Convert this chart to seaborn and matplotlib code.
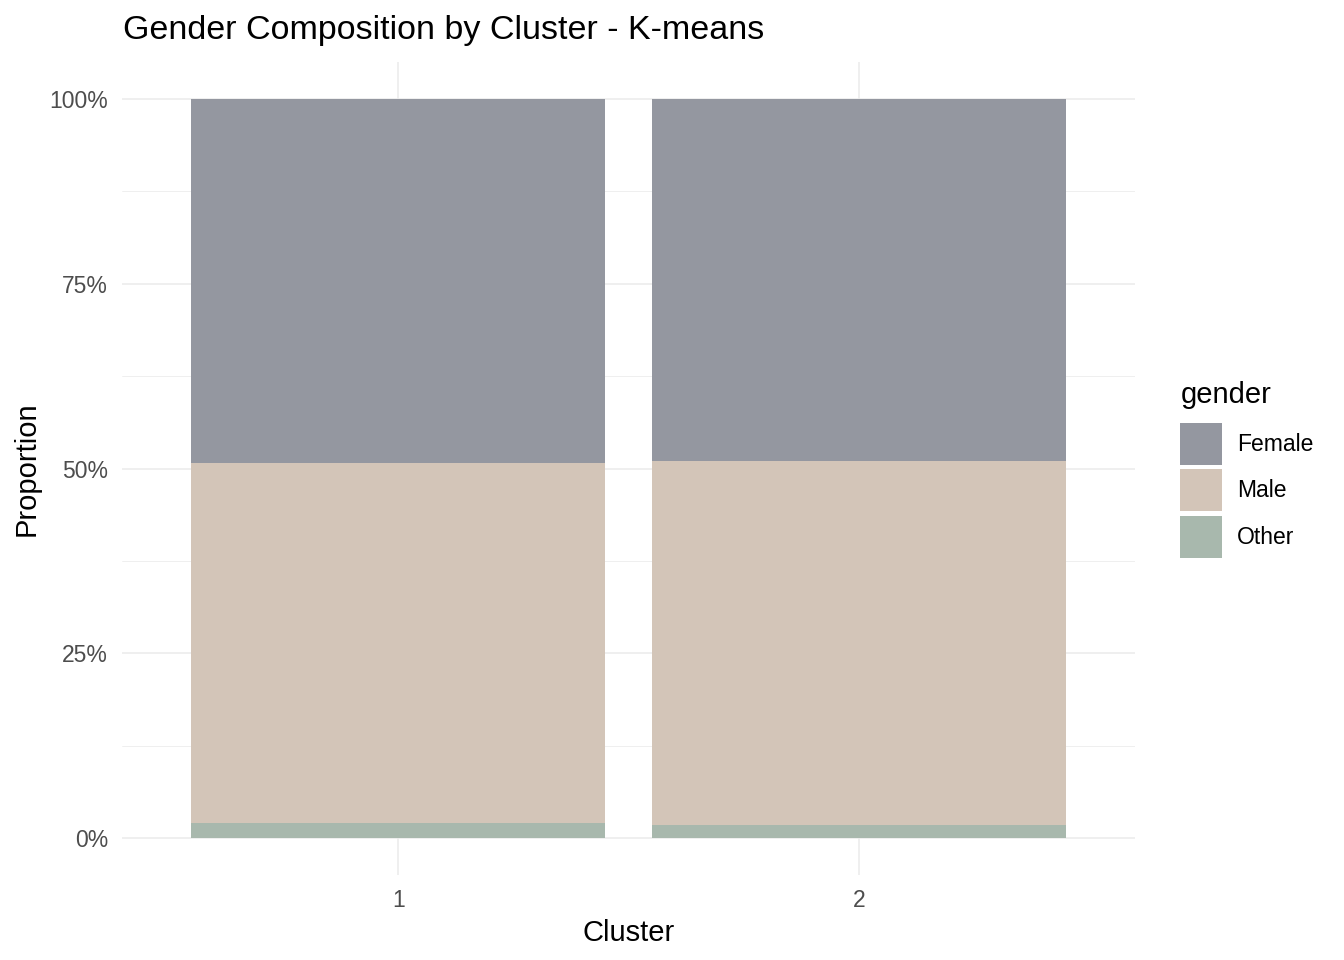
import numpy as np
import pandas as pd
import matplotlib
matplotlib.use("Agg")
import matplotlib.pyplot as plt
import seaborn as sns
from matplotlib.patches import Patch
from matplotlib.ticker import FixedLocator

# data
clusters = ["1", "2"]
female = [0.493, 0.490]
male = [0.487, 0.492]
other = [0.020, 0.018]
genders = ["Female", "Male", "Other"]
colors = ["#9497a0", "#d3c5b8", "#a8b8ad"]

df = pd.DataFrame({"cluster": clusters, "Female": female, "Male": male, "Other": other})
# cumulative tops for stacking (Other at bottom, Female on top)
df["top_Other"] = df["Other"]
df["top_Male"] = df["Other"] + df["Male"]
df["top_Female"] = df["Other"] + df["Male"] + df["Female"]

sns.set_style("white")
plt.rcParams["font.family"] = ["Liberation Sans", "DejaVu Sans"]
plt.rcParams["text.color"] = "black"
plt.rcParams["axes.labelcolor"] = "black"

fig = plt.figure(figsize=(13.44, 9.6), dpi=100)
ax = fig.add_axes([122 / 1344, 1 - 875 / 960, (1135 - 122) / 1344, (875 - 62) / 960])

for g, c in zip(genders, colors):
    sns.barplot(data=df, x="cluster", y="top_" + g, color=c, width=0.9,
                saturation=1, ax=ax, zorder=3, edgecolor="none", linewidth=0)

ax.set_xlim(-0.6, 1.6)
ax.set_ylim(-0.05, 1.05)
ax.yaxis.set_major_locator(FixedLocator([0, 0.25, 0.5, 0.75, 1.0]))
ax.yaxis.set_minor_locator(FixedLocator([0.125, 0.375, 0.625, 0.875]))
ax.set_yticklabels(["0%", "25%", "50%", "75%", "100%"])
ax.grid(True, which="major", color="#ebebeb", linewidth=1.1, zorder=0)
ax.grid(True, which="minor", axis="y", color="#ebebeb", linewidth=0.55, zorder=0)
ax.set_axisbelow(True)
for s in ax.spines.values():
    s.set_visible(False)
ax.tick_params(axis="both", which="both", length=0, labelsize=16.5, labelcolor="#4d4d4d")
ax.tick_params(axis="y", pad=10)
ax.tick_params(axis="x", pad=10)

ax.set_xlabel("Cluster", fontsize=21, labelpad=5)
ax.set_ylabel("Proportion", fontsize=21, labelpad=6)
fig.text(123 / 1344, 1 - 31 / 960, "Gender Composition by Cluster - K-means",
         fontsize=24.5, va="center", ha="left")

handles = [Patch(facecolor=c, edgecolor="none", label=g) for g, c in zip(genders, colors)]
leg = fig.legend(handles=handles, title="gender", loc="upper left",
                 bbox_to_anchor=(1162 / 1344, 1 - 363 / 960), frameon=False,
                 fontsize=16.5, title_fontsize=21, handlelength=1.83, handleheight=2.44,
                 handletextpad=0.65, labelspacing=0.2, borderpad=0.3)
leg._legend_box.align = "left"
leg._legend_box.sep = 9.6  # extra room between title and keys

fig.savefig("out.png", dpi=100)
